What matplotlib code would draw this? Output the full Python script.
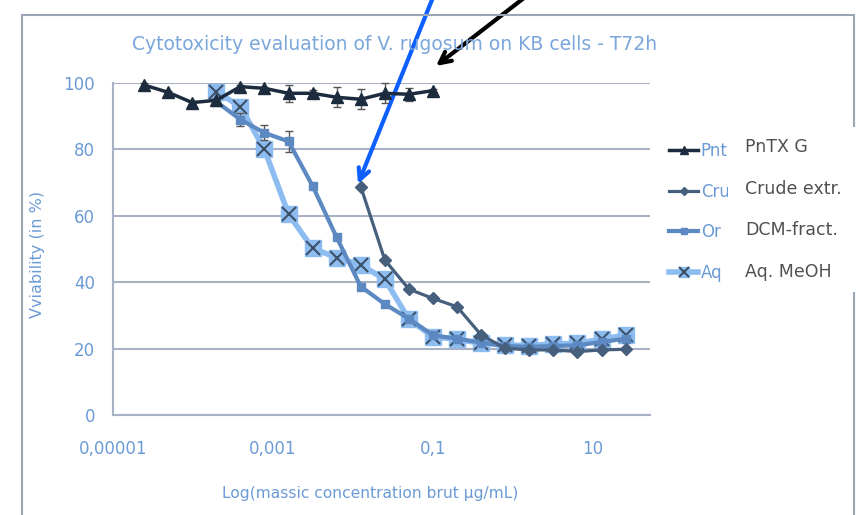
import matplotlib
matplotlib.use('Agg')
import matplotlib.pyplot as plt
from matplotlib.patches import Rectangle
from matplotlib.legend_handler import HandlerTuple

# concentrations (µg/mL) and viability (%)
pntx_x = [0.1 / 2 ** k for k in range(12, -1, -1)]
pntx_y = [99.4, 97.2, 94.1, 94.8, 98.9, 98.4, 96.9, 96.9, 95.7, 95.1, 96.9, 96.6, 97.7]
pntx_err = [0.5, 0.5, 0.5, 0.5, 0.5, 0.5, 2.5, 1.0, 3.0, 3.0, 3.0, 2.0, 0.5]

crude_x = [0.0125 * 2 ** k for k in range(0, 12)]
crude_y = [68.8, 46.7, 37.9, 35.1, 32.6, 24.1, 20.1, 19.6, 19.6, 19.1, 19.6, 19.8]

frac_x = [0.0125 * 2 ** k for k in range(-6, 12)]
dcm_y = [94.4, 89.0, 85.0, 82.4, 69.0, 53.5, 38.7, 33.4, 29.0, 24.0, 23.0, 21.8,
         20.8, 20.5, 20.8, 21.0, 22.0, 23.0]
dcm_err = [0.5, 2.0, 2.2, 3.2, 1.0, 0.5, 0.5, 0.5, 0.5, 0.5, 0.5, 0.5,
           0.5, 0.5, 0.5, 0.5, 0.5, 0.5]
aq_y = [97.4, 92.9, 80.0, 60.5, 50.2, 47.4, 45.2, 40.9, 28.8, 23.6, 22.8, 21.6,
        21.1, 20.9, 21.4, 21.6, 22.8, 24.1]

legend_labels = ['Pnt', 'Cru', 'Or', 'Aq']
overlay_labels = ['PnTX G', 'Crude extr.', 'DCM-fract.', 'Aq. MeOH']
x_ticks = [1e-5, 1e-3, 0.1, 10]
x_ticklabels = ['0,00001', '0,001', '0,1', '10']
y_ticks = [0, 20, 40, 60, 80, 100]

plt.rcParams['font.family'] = ['DejaVu Sans']
label_blue = '#6b9bd6'
grid_col = '#a7b3c5'

fig = plt.figure(figsize=(8.56, 5.15), dpi=100)
ax = fig.add_axes([113 / 856, 1 - 415 / 515, 537 / 856, 332 / 515])

# error bars first, then lines with markers
ax.errorbar(pntx_x, pntx_y, yerr=pntx_err, fmt='none', ecolor='#555555',
            elinewidth=1, capsize=3, zorder=4.5, clip_on=False)
ax.errorbar(frac_x, dcm_y, yerr=dcm_err, fmt='none', ecolor='#555555',
            elinewidth=1, capsize=3, zorder=2.9)

l1, = ax.plot(pntx_x, pntx_y, color='#1d2b3e', lw=2.5, marker='^', ms=9,
              zorder=5, clip_on=False)
l2, = ax.plot(crude_x, crude_y, color='#465f7d', lw=2.3, marker='D', ms=6.5, zorder=4)
l3, = ax.plot(frac_x, dcm_y, color='#5d89c2', lw=3, marker='s', ms=6, zorder=3)
l4, = ax.plot(frac_x, aq_y, color='#8dbdf0', lw=4, marker='s', ms=12, zorder=2)
lx, = ax.plot(frac_x, aq_y, ls='none', marker='x', ms=10, mew=1.5, color='#3c5068',
              zorder=2.5)

ax.set_xscale('log')
ax.set_xlim(1e-5, 10 ** 1.7125)
ax.set_ylim(0, 100)
ax.set_xticks(x_ticks)
ax.set_xticklabels(x_ticklabels)
ax.minorticks_off()
ax.set_yticks(y_ticks)
ax.tick_params(axis='both', length=0, labelsize=12, labelcolor=label_blue)
ax.tick_params(axis='x', pad=18)
ax.tick_params(axis='y', pad=13)
ax.grid(axis='y', color=grid_col, lw=1.5)
ax.set_axisbelow(True)
for s in ['top', 'right']:
    ax.spines[s].set_visible(False)
for s in ['left', 'bottom']:
    ax.spines[s].set_color(grid_col)
    ax.spines[s].set_linewidth(1.5)

ax.set_xlabel('Log(massic concentration brut µg/mL)', fontsize=11.2, color=label_blue)
ax.xaxis.set_label_coords(0.479, -0.215)
ax.set_ylabel('Vviability (in %)', fontsize=11.5, color=label_blue)
ax.yaxis.set_label_coords(-0.127, 0.485)

fig.text(395 / 856, 1 - 45 / 515, 'Cytotoxicity evaluation of V. rugosum on KB cells - T72h',
         ha='center', va='center', fontsize=13.5, color='#7aa6dc')

# legend (truncated in the original)
leg = ax.legend([l1, l2, l3, (l4, lx)], legend_labels, loc='center left',
                bbox_to_anchor=(669 / 856, 1 - 212 / 515),
                bbox_transform=fig.transFigure, frameon=False, fontsize=12,
                labelspacing=1.35, handlelength=1.75, handletextpad=0.15,
                borderpad=0, borderaxespad=0, markerscale=0.65,
                handler_map={tuple: HandlerTuple(ndivide=1)})
for t in leg.get_texts():
    t.set_color(label_blue)

# outer chart border
fig.patches.append(Rectangle((22 / 856, -0.05), 832 / 856, 1.05 - 15 / 515,
                             transform=fig.transFigure, fill=False,
                             edgecolor='#9aa6b6', lw=1.5))

# white box pasted over the legend text
fig.patches.append(Rectangle((728 / 856, 1 - 292 / 515), 128 / 856, 165 / 515,
                             transform=fig.transFigure, facecolor='white',
                             edgecolor='none', zorder=10))
for i, lab in enumerate(overlay_labels):
    fig.text(745 / 856, 1 - (147 + 41.7 * i) / 515, lab, ha='left', va='center',
             fontsize=12.5, color='#505050', zorder=11)

# hand-drawn arrows
ax.annotate('', xy=(358 / 856, 1 - 184 / 515), xycoords='figure fraction',
            xytext=(434 / 856, 1.01), textcoords='figure fraction',
            arrowprops=dict(arrowstyle='->,head_length=0.8,head_width=0.4',
                            color='#0d5fff', lw=3, shrinkA=0, shrinkB=0),
            annotation_clip=False)
ax.annotate('', xy=(436 / 856, 1 - 66 / 515), xycoords='figure fraction',
            xytext=(528 / 856, 1.01), textcoords='figure fraction',
            arrowprops=dict(arrowstyle='->,head_length=0.8,head_width=0.4',
                            color='black', lw=3, shrinkA=0, shrinkB=0),
            annotation_clip=False)

fig.savefig('out.png', dpi=100)
